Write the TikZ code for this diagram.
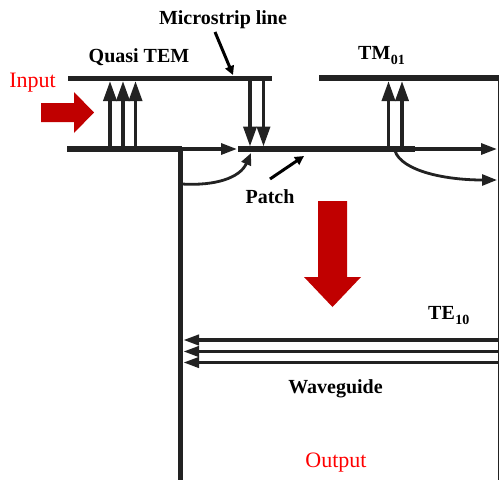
\documentclass[tikz,border=0pt]{standalone}
\usepackage{fontspec}
\setmainfont{Liberation Serif}
\usetikzlibrary{arrows.meta}
\definecolor{ink}{HTML}{222222}
\definecolor{darkred}{HTML}{C00000}
\tikzset{
  wall/.style={draw=ink,line width=5.4pt},
  wallthin/.style={draw=ink,line width=1.2pt},
  fieldbig/.style={draw=ink,line width=3.6pt,-{Triangle[length=20pt,width=13pt]}},
  flow/.style={draw=ink,line width=3.2pt,-{Triangle[length=16pt,width=11pt]}},
  pointer/.style={draw=black,line width=3pt,-{Triangle[length=9pt,width=9pt]}},
  curved/.style={draw=ink,line width=2.8pt},
  tefield/.style={draw=ink,line width=3.8pt,-{Triangle[length=16pt,width=10pt]}},
  bigarrow/.style={fill=darkred,draw=none},
  lab/.style={font=\bfseries\fontsize{20}{22}\selectfont,text=black,inner sep=0pt},
  sublab/.style={font=\bfseries\fontsize{14}{16}\selectfont,text=black,inner sep=0pt},
  redlab/.style={font=\fontsize{22}{24}\selectfont,text=red,inner sep=0pt}
}
\begin{document}
\begin{tikzpicture}[x=1pt,y=-1pt]
\useasboundingbox (0,0) rectangle (499,480);
% named anchor points
\coordinate (tl) at (68,78.5);   \coordinate (tm) at (272,78.5);
\coordinate (tr0) at (319,78);   \coordinate (tr1) at (498.5,78);
\coordinate (bl) at (67,149);    \coordinate (br) at (182,149);
\coordinate (pa) at (238,149);   \coordinate (pb) at (415,149);
\coordinate (wt) at (180,149);   \coordinate (wb) at (180,480);
\coordinate (rw) at (498.5,480);
% conductors
\draw[wall] (tl) -- (tm);
\draw[wall] (tr0) -- (tr1);
\draw[wall] (bl) -- (br);
\draw[wall] (pa) -- (pb);
\draw[wall,line width=5pt] (wt) -- (wb);
\draw[wallthin] (tr1) -- (rw);
% quasi-TEM field
\foreach \i/\xx in {a/110,b/123,c/135.5}{
  \coordinate (q\i0) at (\xx,149); \coordinate (q\i1) at (\xx,81);
  \draw[fieldbig] (q\i0) -- (q\i1);
}
% down field
\foreach \i/\xx in {a/250,b/263.5}{
  \coordinate (d\i0) at (\xx,81); \coordinate (d\i1) at (\xx,146.5);
  \draw[fieldbig] (d\i0) -- (d\i1);
}
% TM01 field
\foreach \i/\xx in {a/388.5,b/402}{
  \coordinate (m\i0) at (\xx,149); \coordinate (m\i1) at (\xx,81);
  \draw[fieldbig] (m\i0) -- (m\i1);
}
% horizontal flow
\coordinate (f0) at (182,149); \coordinate (f1) at (237,149);
\draw[flow] (f0) -- (f1);
\coordinate (g0) at (415,149); \coordinate (g1) at (497,149);
\draw[flow] (g0) -- (g1);
% curved flows
\coordinate (c0) at (182,184); \coordinate (c1) at (251,153);
\draw[curved,-{Triangle[length=12pt,width=10pt]}]
  (c0) .. controls (215,186) and (240,178) .. (c1);
\coordinate (h0) at (395,151); \coordinate (h1) at (497,180);
\draw[curved,-{Triangle[length=15pt,width=11pt]}]
  (h0) .. controls (402,171) and (445,180) .. (h1);
% TE10 field
\foreach \i/\yy in {a/340,b/351.5,c/362.5}{
  \coordinate (e\i0) at (498,\yy); \coordinate (e\i1) at (183,\yy);
  \draw[tefield] (e\i0) -- (e\i1);
}
% pointers
\coordinate (p0) at (215,32); \coordinate (p1) at (233,75);
\draw[pointer] (p0) -- (p1);
\coordinate (s0) at (270,179); \coordinate (s1) at (304,156);
\draw[pointer] (s0) -- (s1);
% big red arrows
\fill[bigarrow] (41,103) -- (74,103) -- (74,92) -- (94,112.5) -- (74,133) -- (74,122) -- (41,122) -- cycle;
\fill[bigarrow] (318,201) -- (347,201) -- (347,277) -- (361,277) -- (332.5,307) -- (304,277) -- (318,277) -- cycle;
% labels
\node[lab,anchor=base] (ms) at (223,24) {Microstrip line};
\node[lab,anchor=base] (qt) at (139,62) {Quasi TEM};
\node[lab,anchor=base west] (tm01) at (358,59) {TM};
\node[sublab,anchor=base west] (tm01s) at (tm01.base east) [yshift=-5pt] {01};
\node[lab,anchor=base] (pt) at (270,203) {Patch};
\node[lab,anchor=base west] (te10) at (428,319) {TE};
\node[sublab,anchor=base west] (te10s) at (te10.base east) [yshift=-5pt] {10};
\node[lab,anchor=base] (wg) at (335.5,393) {Waveguide};
\node[redlab,anchor=base] (in) at (32.5,87) {Input};
\node[redlab,anchor=base] (out) at (336,467) {Output};
\end{tikzpicture}
\end{document}
